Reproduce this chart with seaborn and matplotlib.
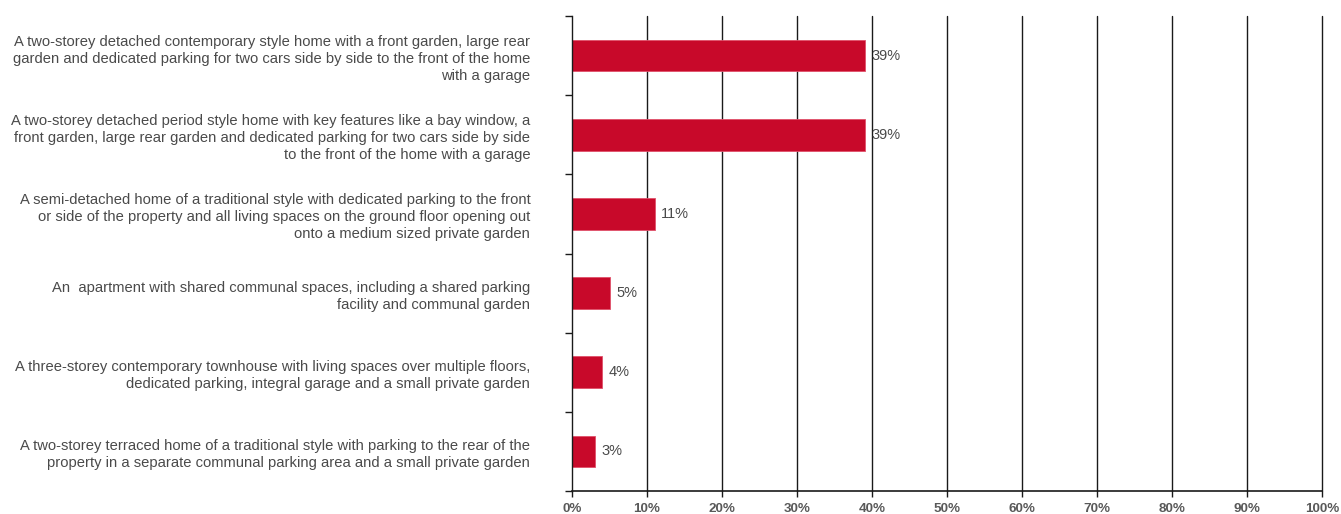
import matplotlib
matplotlib.use("Agg")
import matplotlib.pyplot as plt
import numpy as np
import pandas as pd
import seaborn as sns

categories = [
    "A two-storey detached contemporary style home with a front garden, large rear\n"
    "garden and dedicated parking for two cars side by side to the front of the home\n"
    "with a garage",
    "A two-storey detached period style home with key features like a bay window, a\n"
    "front garden, large rear garden and dedicated parking for two cars side by side\n"
    "to the front of the home with a garage",
    "A semi-detached home of a traditional style with dedicated parking to the front\n"
    "or side of the property and all living spaces on the ground floor opening out\n"
    "onto a medium sized private garden",
    "An  apartment with shared communal spaces, including a shared parking\n"
    "facility and communal garden",
    "A three-storey contemporary townhouse with living spaces over multiple floors,\n"
    "dedicated parking, integral garage and a small private garden",
    "A two-storey terraced home of a traditional style with parking to the rear of the\n"
    "property in a separate communal parking area and a small private garden",
]
shares = [39, 39, 11, 5, 4, 3]
xticks = [0, 10, 20, 30, 40, 50, 60, 70, 80, 90, 100]

df = pd.DataFrame({"home": categories, "share": shares})

sns.set_theme(style="white")
plt.rcParams["font.family"] = ["Liberation Sans", "DejaVu Sans"]

fig = plt.figure(figsize=(13.41, 5.14), dpi=100)
ax = fig.add_axes([572 / 1341, 1 - 491 / 514, 750 / 1341, 475 / 514])

sns.barplot(data=df, x="share", y="home", orient="h", color="#C8092A",
            saturation=1, width=0.4, ax=ax, edgecolor="#E0506A", linewidth=0.6)

ax.set_xlim(0, 100)
ax.set_ylim(len(categories) - 0.5, -0.5)
ax.set_xticks(xticks)
ax.set_xticklabels([f"{t}%" for t in xticks], fontsize=9.7, fontweight="bold",
                   color="#595959")
ax.set_xlabel("")
ax.set_ylabel("")

# vertical gridlines at each 10%
for t in xticks[1:]:
    ax.axvline(t, color="#1a1a1a", lw=1.0, zorder=0, clip_on=False)

for s in ["top", "right"]:
    ax.spines[s].set_visible(False)
ax.spines["left"].set_color("#1a1a1a")
ax.spines["bottom"].set_color("#1a1a1a")
ax.spines["left"].set_linewidth(1.0)
ax.spines["bottom"].set_linewidth(1.2)

# category labels at centre (no tick mark), boundary ticks as minor ticks
ax.set_yticks(range(len(categories)))
ax.set_yticklabels(categories, fontsize=10.6, color="#4a4a4a",
                   ha="right", multialignment="right", linespacing=1.28)
ax.tick_params(axis="y", which="major", length=0, pad=30)
ax.set_yticks(np.arange(-0.5, len(categories), 1.0), minor=True)
ax.tick_params(axis="y", which="minor", left=True, length=5, width=1,
               color="#1a1a1a")
ax.tick_params(axis="x", which="major", bottom=True, length=4, width=1,
               color="#1a1a1a", pad=5)

for i, v in enumerate(shares):
    ax.text(v + 0.9, i, f"{v}%", va="center", ha="left", fontsize=10.5,
            color="#4a4a4a")

fig.savefig("out.png", dpi=100)
